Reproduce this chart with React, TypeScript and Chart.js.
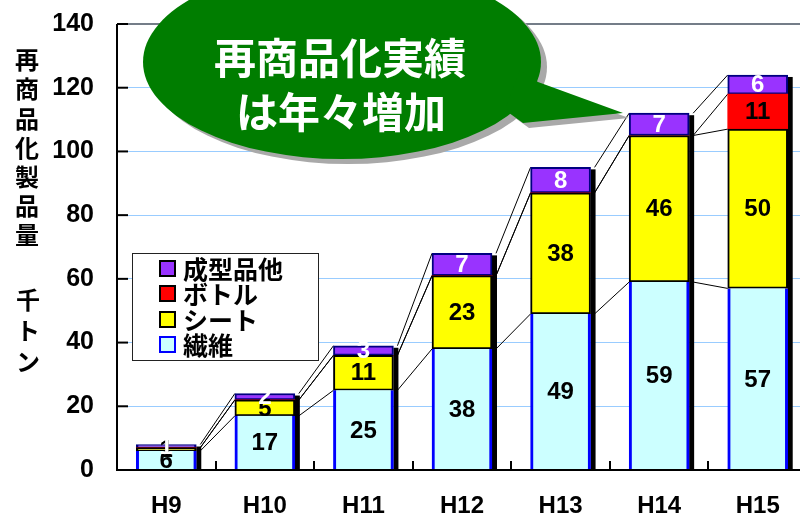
import React, { useEffect, useRef } from "react";
import { Chart, registerables } from "chart.js";

Chart.register(...registerables);

const categories = ["H9", "H10", "H11", "H12", "H13", "H14", "H15"];
const fiber = [6, 17, 25, 38, 49, 59, 57];
const sheet = [1, 5, 11, 23, 38, 46, 50];
const bottle = [0, 0, 0, 0, 0, 0, 11];
const molded = [1, 2, 3, 7, 8, 7, 6];
const seriesNames = ["繊維", "シート", "ボトル", "成型品他"];
const yTickValues = [0, 20, 40, 60, 80, 100, 120, 140];
const yTitle = "再商品化製品量";
const yUnit = "千トン";
const bubbleLines = ["再商品化実績", "は年々増加"];

const fills = ["#ccffff", "#ffff00", "#ff0000", "#9933ff"];
const borders = ["#0000ff", "#000000", "#000000", "#000080"];
const labelColors = ["#000", "#000", "#000", "#fff"];
const NUM_FONT = "'Liberation Sans', Arial, sans-serif";
const JP_FONT = "'Noto Sans CJK JP', 'Noto Sans', sans-serif";

const series = [fiber, sheet, bottle, molded];

const customPlugin = {
  id: "custom",
  beforeDatasetsDraw(chart: any) {
    const { ctx, scales } = chart;
    const y = scales.y;
    const meta0 = chart.getDatasetMeta(0);
    const n = categories.length;
    const base = y.getPixelForValue(0);
    const geo = [] as { l: number; r: number }[];
    for (let j = 0; j < n; j++) {
      const el = meta0.data[j];
      geo.push({ l: el.x - el.width / 2, r: el.x + el.width / 2 });
    }
    ctx.save();
    ctx.strokeStyle = "#000";
    ctx.lineWidth = 1;
    for (let j = 0; j < n - 1; j++) {
      let c0 = 0;
      let c1 = 0;
      for (let k = 0; k < series.length; k++) {
        c0 += series[k][j];
        c1 += series[k][j + 1];
        ctx.beginPath();
        ctx.moveTo(geo[j].r + 4, y.getPixelForValue(c0));
        ctx.lineTo(geo[j + 1].l, y.getPixelForValue(c1));
        ctx.stroke();
      }
    }
    ctx.fillStyle = "#000";
    for (let j = 0; j < n; j++) {
      let total = 0;
      for (let k = 0; k < series.length; k++) total += series[k][j];
      const top = y.getPixelForValue(total);
      ctx.fillRect(geo[j].r, top + 2, 5, base - top - 2);
    }
    ctx.restore();
  },
  afterDatasetsDraw(chart: any) {
    const { ctx } = chart;
    ctx.save();
    ctx.textAlign = "center";
    ctx.textBaseline = "middle";
    for (let k = 0; k < series.length; k++) {
      const meta = chart.getDatasetMeta(k);
      meta.data.forEach((el: any, j: number) => {
        const v = series[k][j];
        if (!v) return;
        ctx.fillStyle = labelColors[k];
        ctx.font = "bold 24px " + NUM_FONT;
        ctx.fillText(String(v), el.x, (el.y + el.base) / 2 + 1);
      });
    }
    ctx.restore();
  },
  afterDraw(chart: any) {
    const { ctx, chartArea, scales } = chart;
    const y = scales.y;
    const x = scales.x;
    ctx.save();
    ctx.strokeStyle = "#465260";
    ctx.lineWidth = 1.5;
    ctx.beginPath();
    ctx.moveTo(chartArea.left, chartArea.top);
    ctx.lineTo(chartArea.right + 5, chartArea.top);
    ctx.stroke();
    ctx.strokeStyle = "#000";
    ctx.lineWidth = 2;
    ctx.beginPath();
    ctx.moveTo(chartArea.left, chartArea.top);
    ctx.lineTo(chartArea.left, chartArea.bottom);
    ctx.lineTo(chartArea.right + 5, chartArea.bottom);
    ctx.stroke();
    yTickValues.forEach((v) => {
      const py = y.getPixelForValue(v);
      ctx.beginPath();
      ctx.moveTo(chartArea.left, py);
      ctx.lineTo(chartArea.left + 11, py);
      ctx.stroke();
    });
    const step = x.width / categories.length;
    for (let j = 1; j <= categories.length; j++) {
      const px = Math.round(x.left + j * step);
      ctx.beginPath();
      ctx.moveTo(px, chartArea.bottom);
      ctx.lineTo(px, chartArea.bottom - 9);
      ctx.stroke();
    }

    // legend
    ctx.fillStyle = "#fff";
    ctx.fillRect(132, 253, 186, 107);
    ctx.strokeStyle = "#222";
    ctx.lineWidth = 1;
    ctx.strokeRect(132.5, 253.5, 186, 107);
    const rows = [3, 2, 1, 0];
    const rowY = [268, 293, 319, 344];
    ctx.textAlign = "left";
    ctx.textBaseline = "middle";
    ctx.font = "bold 25px " + JP_FONT;
    rows.forEach((k, i) => {
      const cy = rowY[i];
      ctx.fillStyle = fills[k];
      ctx.fillRect(160, cy - 7, 15, 15);
      ctx.strokeStyle = k === 0 ? "#0000ff" : "#000";
      ctx.lineWidth = 2;
      ctx.strokeRect(160, cy - 7, 15, 15);
      ctx.fillStyle = "#000";
      ctx.fillText(seriesNames[k], 183, cy + 1);
    });

    // y title (vertical)
    ctx.textAlign = "center";
    ctx.textBaseline = "middle";
    ctx.fillStyle = "#000";
    ctx.font = "bold 24px " + JP_FONT;
    Array.from(yTitle).forEach((ch, i) => {
      ctx.fillText(ch, 27, 60 + i * 29.2);
    });
    Array.from(yUnit).forEach((ch, i) => {
      ctx.fillText(ch, 28, 300 + i * 31);
    });

    // speech bubble
    const drawBubble = (dx: number, dy: number, color: string) => {
      ctx.fillStyle = color;
      ctx.beginPath();
      ctx.ellipse(342 + dx, 62 + dy, 199, 97, 0, 0, Math.PI * 2);
      ctx.fill();
      ctx.beginPath();
      ctx.moveTo(520 + dx, 70 + dy);
      ctx.lineTo(538 + dx, 82 + dy);
      ctx.lineTo(623 + dx, 113 + dy);
      ctx.lineTo(523 + dx, 123 + dy);
      ctx.lineTo(505 + dx, 110 + dy);
      ctx.closePath();
      ctx.fill();
    };
    drawBubble(6, 5, "#a9a9a9");
    drawBubble(0, 0, "#007d00");
    ctx.fillStyle = "#fff";
    ctx.font = "bold 42px " + JP_FONT;
    ctx.fillText(bubbleLines[0], 340, 58);
    ctx.fillText(bubbleLines[1], 341, 112);
    ctx.restore();
  },
};

export default function App() {
  const ref = useRef<HTMLCanvasElement>(null);
  useEffect(() => {
    const canvas = ref.current;
    if (!canvas) return;
    const chart = new Chart(canvas, {
      type: "bar",
      data: {
        labels: categories,
        datasets: series.map((data, k) => ({
          label: seriesNames[k],
          data,
          backgroundColor: fills[k],
          borderColor: borders[k],
          borderWidth:
            k === 0
              ? { left: 3, right: 3, top: 0, bottom: 0 }
              : k === 2
              ? 0
              : 2,
          borderSkipped: false,
          barThickness: 60,
        })),
      },
      options: {
        responsive: false,
        animation: false,
        devicePixelRatio: 1,
        layout: { padding: { top: 24, right: 3, left: 0, bottom: 0 } },
        plugins: {
          legend: { display: false },
          tooltip: { enabled: false },
        },
        scales: {
          x: {
            stacked: true,
            grid: { display: false, drawTicks: false },
            border: { display: false },
            ticks: {
              color: "#000",
              font: { family: NUM_FONT, size: 24, weight: "bold" },
              padding: 22,
            },
            afterFit(s: any) {
              s.height = 47;
            },
          },
          y: {
            stacked: true,
            min: 0,
            max: 140,
            ticks: {
              stepSize: 20,
              color: "#000",
              font: { family: NUM_FONT, size: 25, weight: "bold" },
              padding: 23,
            },
            grid: {
              drawTicks: false,
              lineWidth: 1,
              color: (c: any) =>
                c.tick && (c.tick.value === 0 || c.tick.value === 140)
                  ? "rgba(0,0,0,0)"
                  : "#99ccff",
            },
            border: { display: false },
            afterFit(s: any) {
              s.width = 117;
              s.paddingTop = 0;
              s.paddingBottom = 0;
            },
          },
        },
      },
      plugins: [customPlugin],
    } as any);
    return () => chart.destroy();
  }, []);
  return (
    <div
      style={{
        position: "fixed",
        left: 0,
        top: 0,
        width: 800,
        height: 517,
        overflow: "hidden",
        background: "#fff",
      }}
    >
      <canvas
        ref={ref}
        width={810}
        height={517}
        style={{ display: "block", width: 810, height: 517 }}
      />
    </div>
  );
}
